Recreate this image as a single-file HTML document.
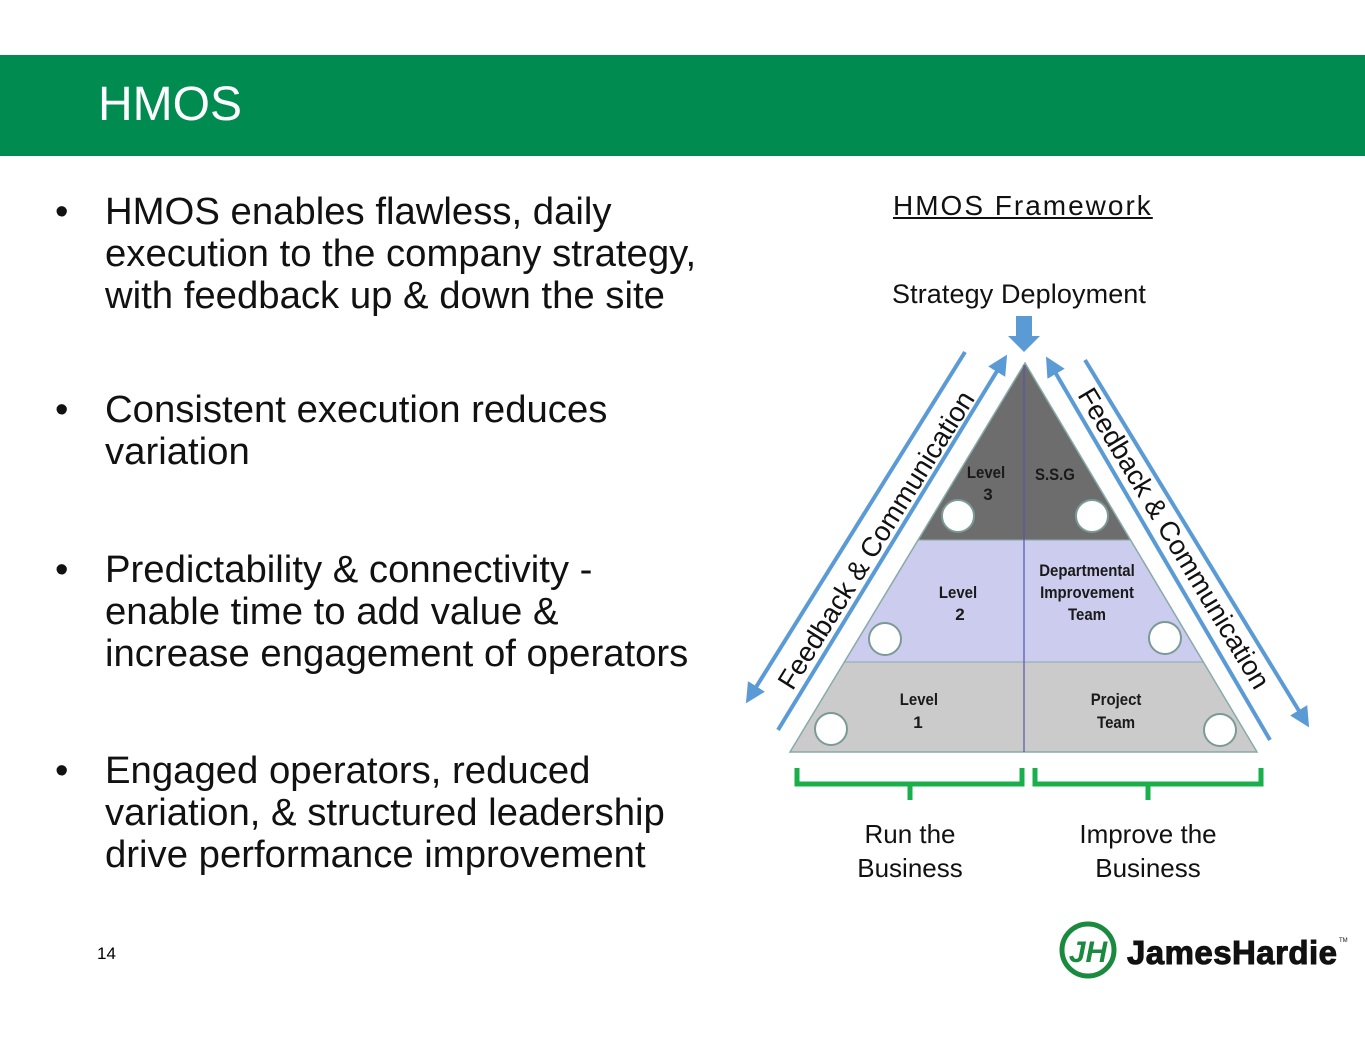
<!DOCTYPE html>
<html><head><meta charset="utf-8"><style>
body{margin:0;width:1365px;height:1055px;background:#fff;position:relative;overflow:hidden;font-family:"Liberation Sans",Arial,sans-serif}
.hdr{position:absolute;left:0;top:55px;width:1365px;height:101px;background:#008b50}
.hdr span{position:absolute;left:98px;top:22px;color:#fff;font-size:48px}
.b{position:absolute;left:105px;font-size:38.3px;line-height:42px;color:#111}
.b:before{content:"•";position:absolute;left:-50px;}
.t{position:absolute;font-size:26px;color:#111}
</style></head><body>
<div class="hdr"><span>HMOS</span></div>
<div class="b" style="top:191px">HMOS enables flawless, daily<br>execution to the company strategy,<br>with feedback up &amp; down the site</div>
<div class="b" style="top:389px">Consistent execution reduces<br>variation</div>
<div class="b" style="top:549px">Predictability &amp; connectivity -<br>enable time to add value &amp;<br>increase engagement of operators</div>
<div class="b" style="top:750px">Engaged operators, reduced<br>variation, &amp; structured leadership<br>drive performance improvement</div>
<div class="t" style="left:893px;top:190px;text-decoration:underline;font-size:28px;letter-spacing:2px">HMOS Framework</div>
<div class="t" style="left:892px;top:279px;font-size:27px;letter-spacing:0.1px">Strategy Deployment</div>
<div class="t" style="left:855px;top:817px;text-align:center;width:110px;line-height:34px">Run the<br>Business</div>
<div class="t" style="left:1068px;top:817px;text-align:center;width:160px;line-height:34px">Improve the<br>Business</div>
<div style="position:absolute;left:97px;top:944px;font-size:17px">14</div>
<svg width="1365" height="1055" style="position:absolute;left:0;top:0">
<defs><marker id="a" markerWidth="5" markerHeight="5" refX="4" refY="2.5" orient="auto"><path d="M0,0L5,2.5L0,5z" fill="#5b9bd5"/></marker></defs>
<polygon points="1025,363 918,540 1131,540" fill="#6d6d6d"/>
<polygon points="918,540 1131,540 1203,662 844,662" fill="#ccccee"/>
<polygon points="844,662 1203,662 1257,752 790,752" fill="#cbcbcb"/>
<polygon points="1025,363 790,752 1257,752" fill="none" stroke="#8aa" stroke-width="1.5"/>
<line x1="918" y1="540" x2="1131" y2="540" stroke="#8aa"/>
<line x1="844" y1="662" x2="1203" y2="662" stroke="#8aa"/>
<line x1="1024" y1="365" x2="1024" y2="752" stroke="#55a" stroke-width="1.2"/>
<g fill="#fff" stroke="#7a9a95" stroke-width="2"><circle cx="958" cy="516" r="16"/><circle cx="1092" cy="516" r="16"/><circle cx="885" cy="639" r="16"/><circle cx="1165" cy="638" r="16"/><circle cx="831" cy="729" r="16"/><circle cx="1220" cy="730" r="16"/></g>
<g font-family="Liberation Sans,Arial" font-weight="bold" font-size="17" fill="#1a1a1a" text-anchor="middle">
<text x="986" y="478" transform="translate(986,0) scale(0.88,1) translate(-986,0)">Level</text><text x="988" y="500">3</text>
<text x="1055" y="480" transform="translate(1055,0) scale(0.88,1) translate(-1055,0)">S.S.G</text>
<text x="958" y="598" transform="translate(958,0) scale(0.88,1) translate(-958,0)">Level</text><text x="960" y="620">2</text>
<g transform="translate(1087,0) scale(0.88,1) translate(-1087,0)">
<text x="1087" y="576">Departmental</text><text x="1087" y="598">Improvement</text><text x="1087" y="620">Team</text>
<text x="916" y="705" transform="translate(-20,0)">Level</text>
<text x="1116" y="705" transform="translate(4,0)">Project</text><text x="1116" y="728" transform="translate(4,0)">Team</text>
</g>
<text x="918" y="728">1</text>
</g>
<path d="M1016,316h16v20h8l-16,16l-16,-16h8z" fill="#5b9bd5"/>
<g stroke="#5b9bd5" stroke-width="4" fill="none">
<line x1="965" y1="352" x2="748" y2="700" marker-end="url(#a)"/>
<line x1="778" y1="730" x2="1005" y2="358" marker-end="url(#a)"/>
<line x1="1270" y1="740" x2="1048" y2="360" marker-end="url(#a)"/>
<line x1="1085" y1="360" x2="1307" y2="724" marker-end="url(#a)"/>
</g>
<g font-family="Liberation Sans,Arial" font-size="27.5" fill="#111" text-anchor="middle">
<text transform="translate(884,545) rotate(-58)">Feedback &amp; Communication</text>
<text transform="translate(1166,543) rotate(59)">Feedback &amp; Communication</text>
</g>
<g stroke="#19b04b" stroke-width="5" fill="none">
<path d="M797,768v16h225v-16M910,784v16"/>
<path d="M1035,768v16h226v-16M1148,784v16"/>
</g>
<circle cx="1088" cy="950" r="26" fill="none" stroke="#1a8a3e" stroke-width="5"/>
<text x="1088" y="962" font-family="Liberation Sans" font-weight="bold" font-style="italic" font-size="30" fill="#1a8a3e" text-anchor="middle">JH</text>
<text x="1127" y="964" font-family="Liberation Sans" font-weight="bold" font-size="33" fill="#111" stroke="#111" stroke-width="1" textLength="210">JamesHardie</text>
<text x="1339" y="942" font-family="Liberation Sans" font-size="6" fill="#111">TM</text>
</svg>
</body></html>
